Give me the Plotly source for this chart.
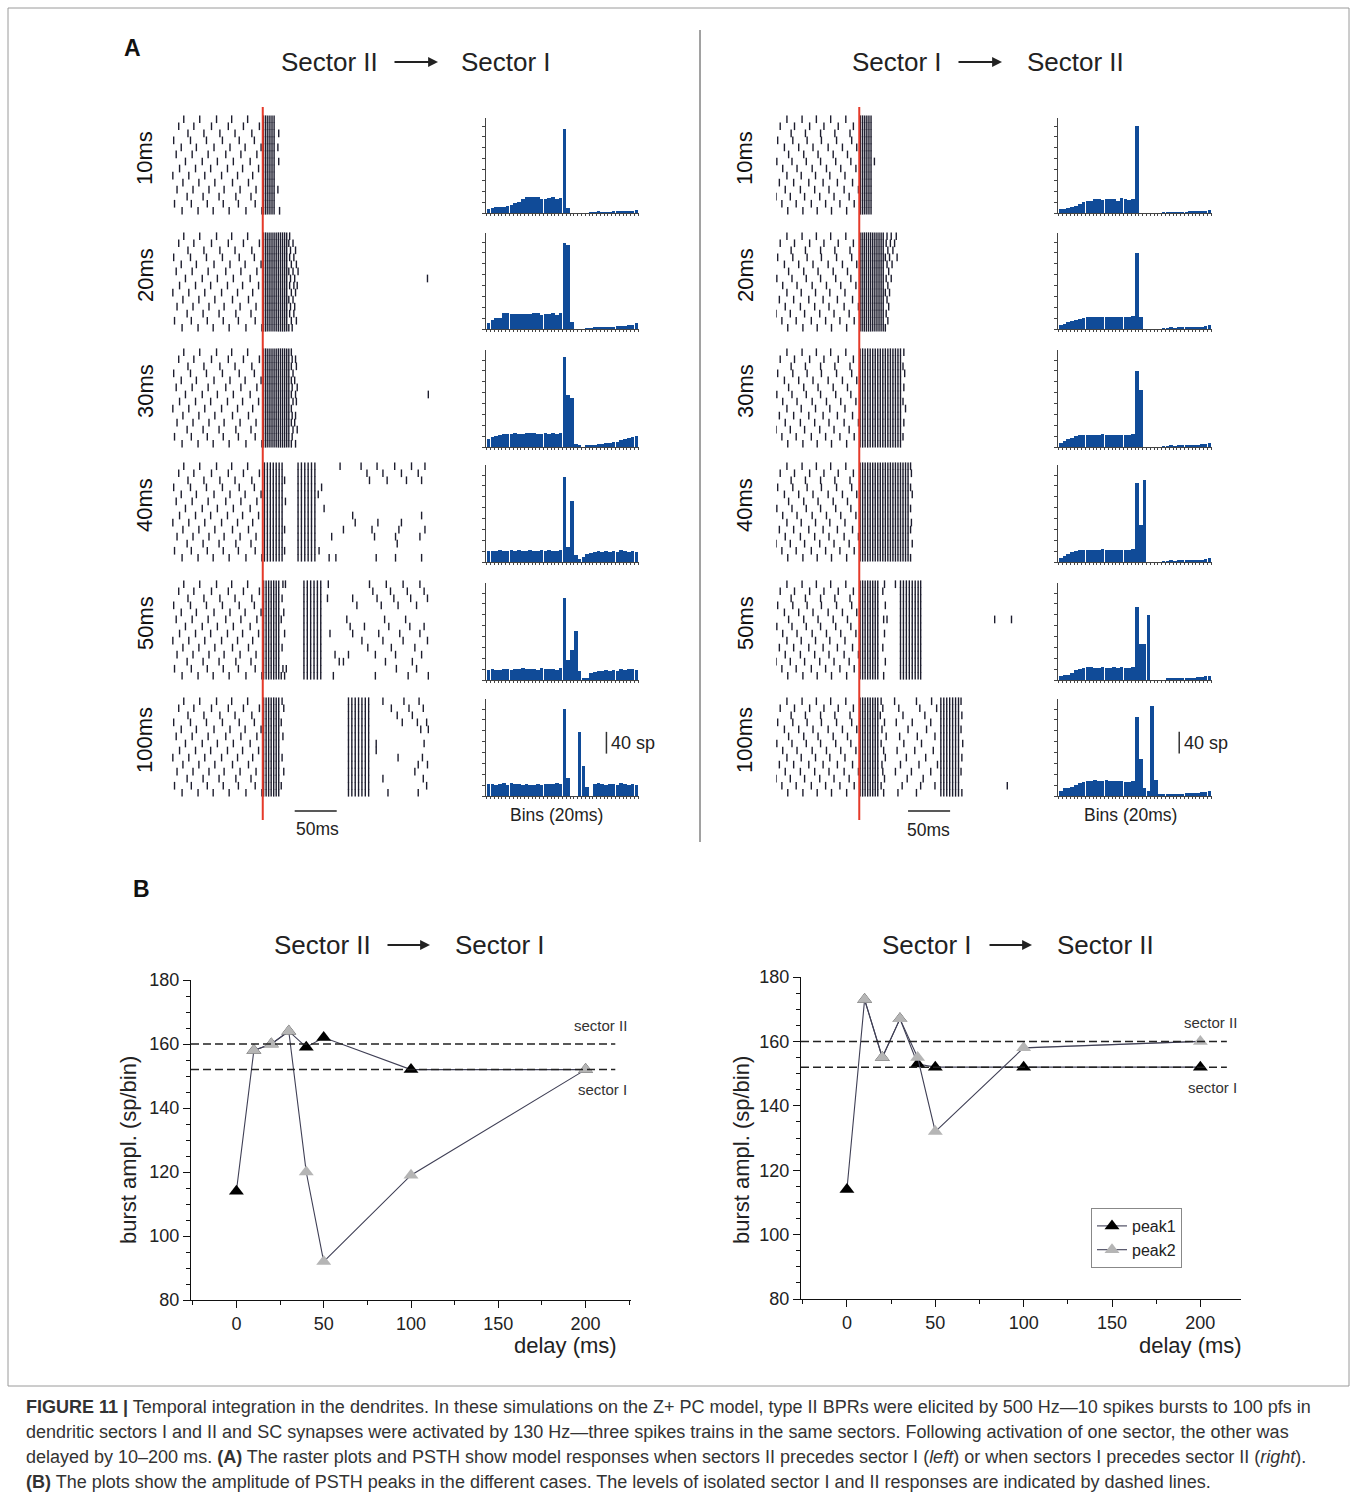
import plotly.graph_objects as go

W, H = 1356, 1502
FONT = "Liberation Sans, Arial, sans-serif"

# ---------------- DATA ----------------
DELAY_LABELS = ["10ms", "20ms", "30ms", "40ms", "50ms", "100ms"]
N_TRIALS = 14

# pre-stimulus spontaneous spikes (ms, relative to first burst) per trial
PRE_L = [
    [-94, -75, -55, -37, -18],
    [-100, -82, -61, -41, -23, -4],
    [-89, -70, -51, -33, -13],
    [-106, -86, -67, -48, -28, -10],
    [-97, -79, -58, -39, -21, -2],
    [-103, -84, -65, -44, -26, -7],
    [-92, -72, -54, -35, -15],
    [-99, -80, -62, -42, -24, -5],
    [-107, -88, -69, -49, -30, -12],
    [-95, -76, -57, -36, -17],
    [-102, -83, -64, -46, -27, -8],
    [-90, -71, -52, -32, -14],
    [-105, -85, -66, -47, -29, -9],
    [-96, -77, -59, -40, -20, -1],
]
PRE_R = [
    [-86, -68, -51, -34, -16],
    [-94, -77, -59, -42, -25, -7],
    [-81, -64, -46, -29, -11],
    [-97, -79, -62, -45, -27, -9],
    [-89, -72, -55, -37, -20, -3],
    [-84, -66, -49, -31, -14],
    [-98, -80, -63, -46, -28, -10],
    [-91, -74, -56, -39, -22, -4],
    [-86, -69, -52, -35, -17],
    [-95, -78, -60, -43, -26, -8],
    [-88, -70, -53, -36, -18, -1],
    [-99, -82, -65, -47, -30, -12],
    [-92, -75, -57, -40, -23, -6],
    [-85, -67, -50, -33, -15],
]

# burst spike columns (shared by all trials) and per-trial extra spikes
BURST_L10 = [1, 3.5, 6, 8.5, 11, 13.5]
EXTRA_L10 = {2: [19], 4: [18], 6: [19], 10: [18], 13: [20]}
BURST_L20 = [1, 3.5, 6, 8.5, 11, 13.5, 16, 18.5, 21, 23.5, 26, 28.5]
EXTRA_L20 = {0: [32], 1: [31, 36], 2: [33, 39], 3: [32, 37], 4: [34, 40], 5: [31, 36, 42],
             6: [33, 38, 196], 7: [32, 37, 41], 8: [34, 39], 9: [31, 36], 10: [33, 38],
             11: [32, 37], 12: [34, 40], 13: [31, 35]}
BURST_L30 = [1, 3.5, 6, 8.5, 11, 13.5, 16, 18.5, 21, 23.5, 26, 28.5, 31]
EXTRA_L30 = {0: [34], 1: [35, 39], 2: [34, 40], 3: [36], 4: [34, 38], 5: [35, 41],
             6: [34, 39, 197], 7: [36, 40], 8: [34], 9: [35, 39], 10: [34, 38],
             11: [36, 41], 12: [35], 13: [34, 39]}
BURST_L40 = [2, 5.5, 9, 12.5, 16, 19.5, 23, 42, 46, 50, 54, 58, 62]
EXTRA_L40 = {0: [92, 117, 136, 157, 177, 193], 1: [124, 143, 165, 185],
             2: [26, 127, 148, 171, 189], 3: [70], 4: [66], 5: [27], 6: [73],
             7: [107, 189], 8: [110, 137, 165], 9: [26, 96, 130, 162, 193],
             10: [82, 133, 158, 187], 11: [160], 12: [26, 67],
             13: [79, 87, 135, 158, 189]}
BURST_L50 = [1, 4, 7, 10, 13, 16, 19, 49, 53, 57, 61, 65, 69]
EXTRA_L50 = {0: [24, 27, 78, 127, 147, 167, 187], 1: [131, 152, 172, 192],
             2: [23, 77, 107, 136, 156, 176, 196], 3: [112, 141, 161, 183], 4: [25],
             5: [22, 100, 145, 170], 6: [104, 121, 150, 175, 192],
             7: [26, 80, 107, 138, 163, 187], 8: [118, 143, 167, 196],
             9: [23, 125, 153, 181], 10: [86, 102, 134, 158, 189],
             11: [91, 96, 146, 178], 12: [24, 28, 159, 183],
             13: [22, 26, 84, 134, 173, 197]}
BURST_L100 = [1, 4, 7, 10, 13, 16, 19, 102, 106, 110, 114, 118, 122, 126]
EXTRA_L100 = {0: [23, 143, 168, 186], 1: [25, 153, 174, 191], 2: [160, 178],
              3: [22, 166, 184, 195], 4: [188, 197], 5: [24], 6: [135, 192], 7: [135],
              8: [23, 161, 190], 9: [185, 196], 10: [25, 181], 11: [143, 191],
              12: [22, 195], 13: [149, 185]}

BURST_R10 = [1.5, 4, 6.5, 9, 11.5, 14]
EXTRA_R10 = {6: [18]}
BURST_R20 = [1, 3.5, 6, 8.5, 11, 13.5, 16, 18.5, 21, 23.5, 26, 28.5]
EXTRA_R20 = {0: [33, 38, 44], 1: [32, 37, 42], 2: [34, 40], 3: [31, 36, 45], 4: [33, 39],
             5: [35], 6: [32, 38], 7: [34], 8: [31, 36], 9: [33], 10: [35], 11: [32],
             12: [34], 13: [31]}
BURST_R30 = [1, 4, 7, 10, 13, 16, 19, 22, 25, 28, 31, 34, 37, 40, 43, 46, 49]
EXTRA_R30 = {0: [53], 2: [52], 3: [54], 5: [53], 7: [52], 8: [55], 10: [53], 12: [52]}
BURST_R40 = [1, 4, 7, 10, 13, 16, 19, 22, 25, 28, 31, 34, 37, 40, 43, 46, 49, 52, 55, 58]
EXTRA_R40 = {0: [61], 1: [62], 3: [61], 4: [63], 6: [61], 8: [62], 9: [61], 11: [63], 13: [61]}
BURST_R50 = [1, 4, 7, 10, 13, 16, 19, 22, 49, 52.5, 56, 59.5, 63, 66.5, 70, 73]
EXTRA_R50 = {0: [30, 43], 1: [28], 3: [31], 5: [29, 33, 161, 181], 7: [30], 9: [28],
             11: [31], 13: [29]}
BURST_R100 = [1, 4, 7, 10, 13, 16, 19, 22, 97, 100.5, 104, 107.5, 111, 114.5, 118]
EXTRA_R100 = {0: [26, 42, 68, 86, 121], 1: [28, 47, 72, 92], 2: [25, 52, 78, 122],
              3: [30, 44, 63, 85], 4: [27, 58, 80, 121], 5: [32, 48, 69, 90],
              6: [26, 53, 74, 123], 7: [29, 45, 66, 88], 8: [31, 56, 79, 122],
              9: [27, 49, 71, 93], 10: [28, 43, 62, 85, 121], 11: [30, 57, 76],
              12: [26, 51, 73, 90, 176], 13: [29, 46, 68, 122]}

# PSTH counts (spikes per bin), 40 bins
H_L10 = [7, 9, 11, 11, 11, 12, 15, 18, 21, 25, 29, 29, 29, 29, 26, 26, 27, 30, 26, 28,
         154, 9, 0, 0, 0, 0, 0, 1, 1, 2, 1, 1, 1, 2, 2, 3, 3, 4, 4, 6]
H_L20 = [11, 17, 20, 21, 29, 29, 28, 28, 27, 27, 28, 28, 29, 29, 25, 28, 28, 29, 26, 29,
         158, 155, 12, 0, 0, 0, 1, 1, 2, 2, 2, 2, 3, 4, 5, 5, 6, 7, 8, 11]
H_L30 = [14, 18, 20, 22, 24, 24, 24, 25, 24, 24, 25, 26, 25, 24, 24, 26, 24, 25, 24, 26,
         166, 96, 90, 5, 3, 0, 4, 2, 3, 5, 6, 7, 8, 9, 10, 12, 14, 16, 18, 20]
H_L40 = [20, 21, 20, 22, 21, 20, 22, 21, 22, 20, 21, 22, 21, 20, 22, 21, 22, 20, 21, 23,
         156, 28, 112, 12, 6, 10, 14, 16, 18, 20, 18, 20, 19, 21, 18, 22, 20, 19, 21, 18]
H_L50 = [19, 20, 18, 19, 21, 21, 19, 21, 20, 22, 20, 21, 21, 19, 22, 20, 20, 21, 19, 22,
         150, 37, 56, 91, 17, 2, 4, 12, 15, 17, 17, 18, 17, 19, 17, 20, 19, 20, 21, 19]
H_L100 = [22, 22, 21, 22, 24, 21, 24, 22, 23, 21, 22, 21, 21, 23, 21, 22, 23, 22, 24, 23,
          160, 33, 0, 0, 117, 55, 16, 0, 22, 24, 22, 21, 23, 22, 21, 24, 22, 21, 23, 20]
H_R10 = [7, 8, 9, 11, 13, 17, 20, 23, 23, 26, 25, 24, 26, 25, 25, 23, 27, 25, 24, 26,
         160, 0, 0, 0, 0, 0, 0, 1, 1, 1, 1, 1, 1, 1, 2, 3, 3, 3, 4, 6]
H_R20 = [8, 10, 12, 14, 16, 19, 21, 22, 22, 23, 22, 23, 22, 23, 22, 22, 23, 22, 22, 24,
         140, 22, 0, 0, 0, 0, 0, 1, 1, 2, 1, 2, 2, 2, 3, 3, 4, 4, 6, 8]
H_R30 = [8, 11, 14, 17, 20, 22, 23, 22, 23, 22, 23, 24, 22, 23, 22, 23, 22, 23, 22, 24,
         140, 105, 0, 0, 0, 0, 0, 1, 1, 2, 1, 2, 2, 3, 3, 4, 4, 5, 6, 8]
H_R40 = [8, 11, 15, 18, 21, 22, 23, 22, 23, 22, 23, 24, 22, 23, 22, 23, 22, 23, 22, 24,
         145, 68, 151, 0, 0, 0, 0, 1, 1, 2, 1, 2, 2, 2, 3, 3, 4, 4, 5, 7]
H_R50 = [7, 9, 10, 13, 18, 21, 23, 24, 24, 23, 23, 24, 23, 23, 24, 23, 24, 23, 23, 24,
         134, 66, 66, 120, 0, 0, 0, 0, 2, 2, 3, 2, 3, 3, 4, 4, 5, 6, 7, 8]
H_R100 = [10, 14, 15, 17, 20, 24, 26, 27, 27, 29, 28, 27, 29, 28, 27, 28, 27, 26, 26, 27,
          146, 68, 14, 10, 165, 29, 2, 2, 3, 3, 3, 4, 4, 5, 5, 6, 6, 7, 8, 9]

# Panel B: burst amplitude vs delay
DELAYS = [0, 10, 20, 30, 40, 50, 100, 200]
L_PEAK1 = [114, 158, 160, 164, 159, 162, 152, 152]
L_PEAK2 = [None, 158, 160, 164, 120, 92, 119, 152]
R_PEAK1 = [114, 173, 155, 167, 153, 152, 152, 152]
R_PEAK2 = [None, 173, 155, 167, 155, 132, 158, 160]
SECTOR_II_LEVEL = 160
SECTOR_I_LEVEL = 152

# ---------------- BUILD ----------------
layout = {}
shapes = []
annotations = []
traces = []
_count = [0]


def add_axes(x0, x1, y0, y1, xo, yo):
    _count[0] += 1
    i = _count[0]
    s = '' if i == 1 else str(i)
    layout['xaxis' + s] = dict(domain=[x0 / W, x1 / W], anchor='y' + s, **xo)
    layout['yaxis' + s] = dict(domain=[1 - y1 / H, 1 - y0 / H], anchor='x' + s, **yo)
    return 'x' + s, 'y' + s


def text(x, y, s, size, color='#222', xanchor='center', yanchor='middle', **kw):
    annotations.append(dict(x=x / W, y=1 - y / H, xref='paper', yref='paper', text=s,
                            showarrow=False, xanchor=xanchor, yanchor=yanchor,
                            font=dict(family=FONT, size=size, color=color), **kw))


def arrow(x0, x1, y):
    annotations.append(dict(x=x1 / W, y=1 - y / H, xref='paper', yref='paper', ax=-(x1 - x0), ay=0,
                            text='', showarrow=True, arrowhead=2, arrowsize=1.1, arrowwidth=1.8,
                            arrowcolor='#222'))


# ---------- Panel A rasters ----------
RASTER_TOPS = [115, 232, 348, 462, 580, 697]
RASTER_H = 100
HIST_TOPS = [118, 233, 350, 465, 583, 699]
HIST_BOTS = [213, 329, 447, 562, 680, 796]
SP_PER_PX = 1.84

sides = [
    dict(rx=(172, 430), trange=[-108, 199], pre=PRE_L,
         panels=[(BURST_L10, EXTRA_L10), (BURST_L20, EXTRA_L20), (BURST_L30, EXTRA_L30),
                 (BURST_L40, EXTRA_L40), (BURST_L50, EXTRA_L50), (BURST_L100, EXTRA_L100)],
         hx=(486, 639), hists=[H_L10, H_L20, H_L30, H_L40, H_L50, H_L100], label_x=145,
         bar_ms=38),
    dict(rx=(776, 1030), trange=[-99, 203], pre=PRE_R,
         panels=[(BURST_R10, EXTRA_R10), (BURST_R20, EXTRA_R20), (BURST_R30, EXTRA_R30),
                 (BURST_R40, EXTRA_R40), (BURST_R50, EXTRA_R50), (BURST_R100, EXTRA_R100)],
         hx=(1058, 1212), hists=[H_R10, H_R20, H_R30, H_R40, H_R50, H_R100], label_x=745,
         bar_ms=58),
]

hidden = dict(visible=False, showgrid=False, zeroline=False)
for side in sides:
    first_x = None
    last_x = None
    for r, (burst, extra) in enumerate(side['panels']):
        top = RASTER_TOPS[r]
        xa, ya = add_axes(side['rx'][0], side['rx'][1], top, top + RASTER_H,
                          dict(range=side['trange'], **hidden),
                          dict(range=[N_TRIALS - 0.4, -0.6], **hidden))
        if first_x is None:
            first_x = xa
        last_x = xa
        xs, ys = [], []
        for k in range(N_TRIALS):
            sp = side['pre'][k] + burst + extra.get(k, [])
            xs += sp
            ys += [k] * len(sp)
        traces.append(go.Scatter(x=xs, y=ys, xaxis=xa, yaxis=ya, mode='markers',
                                 marker=dict(symbol='line-ns', size=5.5,
                                             line=dict(width=1.4, color='#1d1d2e')),
                                 showlegend=False, hoverinfo='skip'))
        text(side['label_x'], top + 43, DELAY_LABELS[r], 22, color='#111', textangle=-90)

    # red stimulus line
    shapes.append(dict(type='line', xref=first_x, yref='paper', x0=0, x1=0,
                       y0=1 - 107 / H, y1=1 - 820 / H, line=dict(color='#e53a2a', width=2)))
    # 50 ms scale bar
    shapes.append(dict(type='line', xref=last_x, yref='paper', x0=side['bar_ms'], x1=side['bar_ms'] + 50,
                       y0=1 - 811 / H, y1=1 - 811 / H, line=dict(color='#222', width=1.5)))

    # PSTHs
    for r, vals in enumerate(side['hists']):
        top, bot = HIST_TOPS[r], HIST_BOTS[r]
        xa, ya = add_axes(side['hx'][0], side['hx'][1], top, bot,
                          dict(range=[-0.7, len(vals) - 0.3], showline=True, linecolor='#444',
                               linewidth=1, ticks='outside', ticklen=2, tickwidth=0.7,
                               tickcolor='#444', tick0=-0.5, dtick=1, showticklabels=False,
                               showgrid=False, zeroline=False),
                          dict(range=[0, (bot - top) * SP_PER_PX], showline=True, linecolor='#444',
                               linewidth=1, ticks='outside', ticklen=3, tickwidth=0.7,
                               tickcolor='#444', dtick=20, showticklabels=False,
                               showgrid=False, zeroline=False))
        traces.append(go.Bar(x=list(range(len(vals))), y=vals, xaxis=xa, yaxis=ya, width=0.96,
                             marker=dict(color='#104b98', line=dict(width=0)),
                             showlegend=False, hoverinfo='skip'))
        if r == 5:
            shapes.append(dict(type='line', xref=xa, yref=ya, x0=31.1, x1=31.1, y0=78, y1=118,
                               line=dict(color='#333', width=1.5)))
            annotations.append(dict(x=31.7, y=98, xref=xa, yref=ya, text='40 sp', showarrow=False,
                                    xanchor='left', yanchor='middle',
                                    font=dict(family=FONT, size=18, color='#222')))

text(317, 829, '50ms', 17.5)
text(928, 830, '50ms', 17.5)
text(556, 815, 'Bins (20ms)', 17.5)
text(1130, 815, 'Bins (20ms)', 17.5)

# titles panel A
text(132, 48, '<b>A</b>', 23, color='#111')
text(329, 62, 'Sector II', 26)
arrow(393, 438, 62)
text(506, 62, 'Sector I', 26)
text(897, 62, 'Sector I', 26)
arrow(957, 1002, 62)
text(1075, 62, 'Sector II', 26)

# divider
shapes.append(dict(type='line', xref='paper', yref='paper', x0=700 / W, x1=700 / W,
                   y0=1 - 30 / H, y1=1 - 842 / H, line=dict(color='#444', width=1)))

# ---------- Panel B ----------
text(141, 889, '<b>B</b>', 23, color='#111')
text(322, 945, 'Sector II', 26)
arrow(386, 430, 945)
text(500, 945, 'Sector I', 26)
text(927, 945, 'Sector I', 26)
arrow(988, 1032, 945)
text(1105, 945, 'Sector II', 26)

bplots = [
    dict(x=(191, 631), y=(980, 1300), xr=[-26, 226], p1=L_PEAK1, p2=L_PEAK2, legend=False,
         dash_end=217, ytitle_x=128, xtitle_x=565, light_tail=False),
    dict(x=(801, 1241), y=(977, 1299), xr=[-26, 223], p1=R_PEAK1, p2=R_PEAK2, legend=True,
         dash_end=215, ytitle_x=741, xtitle_x=1190, light_tail=True),
]
for bp in bplots:
    ax_common = dict(showline=True, linecolor='#111', linewidth=1.3, ticks='outside', ticklen=7,
                     tickwidth=1.2, tickcolor='#111', showgrid=False, zeroline=False,
                     tickfont=dict(family=FONT, size=18, color='#222'))
    xa, ya = add_axes(bp['x'][0], bp['x'][1], bp['y'][0], bp['y'][1],
                      dict(range=bp['xr'], tickvals=[0, 50, 100, 150, 200],
                           minor=dict(ticks='outside', ticklen=4, tickcolor='#111', dtick=25, tick0=0),
                           **ax_common),
                      dict(range=[80, 180], dtick=20, tick0=80,
                           minor=dict(ticks='outside', ticklen=4, tickcolor='#111', dtick=5, tick0=80),
                           **ax_common))
    for lvl in (SECTOR_II_LEVEL, SECTOR_I_LEVEL):
        shapes.append(dict(type='line', xref=xa, yref=ya, x0=bp['xr'][0], x1=bp['dash_end'],
                           y0=lvl, y1=lvl, line=dict(color='#222', width=1.5, dash='8px,4px')))
    traces.append(go.Scatter(x=DELAYS, y=bp['p1'], xaxis=xa, yaxis=ya, mode='lines+markers',
                             name='peak1', showlegend=bp['legend'],
                             line=dict(color='#3f3f55', width=1.1),
                             marker=dict(symbol='triangle-up', size=13, color='#000')))
    if bp['light_tail']:
        # last peak2 segment drawn in light grey in the original
        traces.append(go.Scatter(x=DELAYS[-2:], y=bp['p2'][-2:], xaxis=xa, yaxis=ya, mode='lines',
                                 showlegend=False, hoverinfo='skip',
                                 line=dict(color='#b8b8b8', width=1.3)))
    traces.append(go.Scatter(x=DELAYS, y=bp['p2'], xaxis=xa, yaxis=ya, mode='lines+markers',
                             name='peak2', showlegend=bp['legend'], connectgaps=False,
                             line=dict(color='#3f3f55', width=1.1),
                             marker=dict(symbol='triangle-up', size=13, color='#b5b5b5')))
    annotations.append(dict(x=bp['xr'][1] - 1, y=SECTOR_II_LEVEL + 5.8, xref=xa, yref=ya,
                            text='sector II', showarrow=False, xanchor='right', yanchor='middle',
                            font=dict(family=FONT, size=15, color='#333')))
    annotations.append(dict(x=bp['xr'][1] - 1, y=SECTOR_I_LEVEL - 6.3, xref=xa, yref=ya,
                            text='sector I', showarrow=False, xanchor='right', yanchor='middle',
                            font=dict(family=FONT, size=15, color='#333')))
    text(bp['ytitle_x'], 1150, 'burst ampl. (sp/bin)', 22, textangle=-90)
    text(bp['xtitle_x'], 1345, 'delay (ms)', 22)

# frame around figure
shapes.append(dict(type='rect', xref='paper', yref='paper', x0=8 / W, x1=1349 / W,
                   y0=1 - 8 / H, y1=1 - 1386 / H, line=dict(color='#9a9a9a', width=1)))

# caption
CAPTION = [
    "<b>FIGURE 11 |</b> Temporal integration in the dendrites. In these simulations on the Z+ PC model, type II BPRs were elicited by 500 Hz\u201410 spikes bursts to 100 pfs in",
    "dendritic sectors I and II and SC synapses were activated by 130 Hz\u2014three spikes trains in the same sectors. Following activation of one sector, the other was",
    "delayed by 10\u2013200 ms. <b>(A)</b> The raster plots and PSTH show model responses when sectors II precedes sector I (<i>left</i>) or when sectors I precedes sector II (<i>right</i>).",
    "<b>(B)</b> The plots show the amplitude of PSTH peaks in the different cases. The levels of isolated sector I and II responses are indicated by dashed lines.",
]
for i, line in enumerate(CAPTION):
    text(24, 1407 + 25 * i, line, 18, color='#333', xanchor='left')

fig = go.Figure(data=traces)
fig.update_layout(**layout)
fig.update_layout(width=W, height=H, margin=dict(l=0, r=0, t=0, b=0, autoexpand=False),
                  paper_bgcolor='white', plot_bgcolor='rgba(0,0,0,0)',
                  shapes=shapes, annotations=annotations, bargap=0,
                  legend=dict(x=1091 / W, y=1 - 1208 / H, xanchor='left', yanchor='top',
                              bordercolor='#888', borderwidth=1, bgcolor='white',
                              font=dict(family=FONT, size=16, color='#222'),
                              tracegroupgap=0, itemwidth=30))

POST = (
    "var gd=document.getElementById('{plot_id}');"
    "document.documentElement.style.margin='0';document.documentElement.style.overflow='hidden';"
    "document.body.style.margin='0';document.body.style.overflow='hidden';"
    "document.body.style.height='" + str(H) + "px';"
    "gd.style.position='absolute';gd.style.left='0px';gd.style.top='0px';"
)
fig.write_html("out.html", config={'displayModeBar': False}, post_script=POST)
